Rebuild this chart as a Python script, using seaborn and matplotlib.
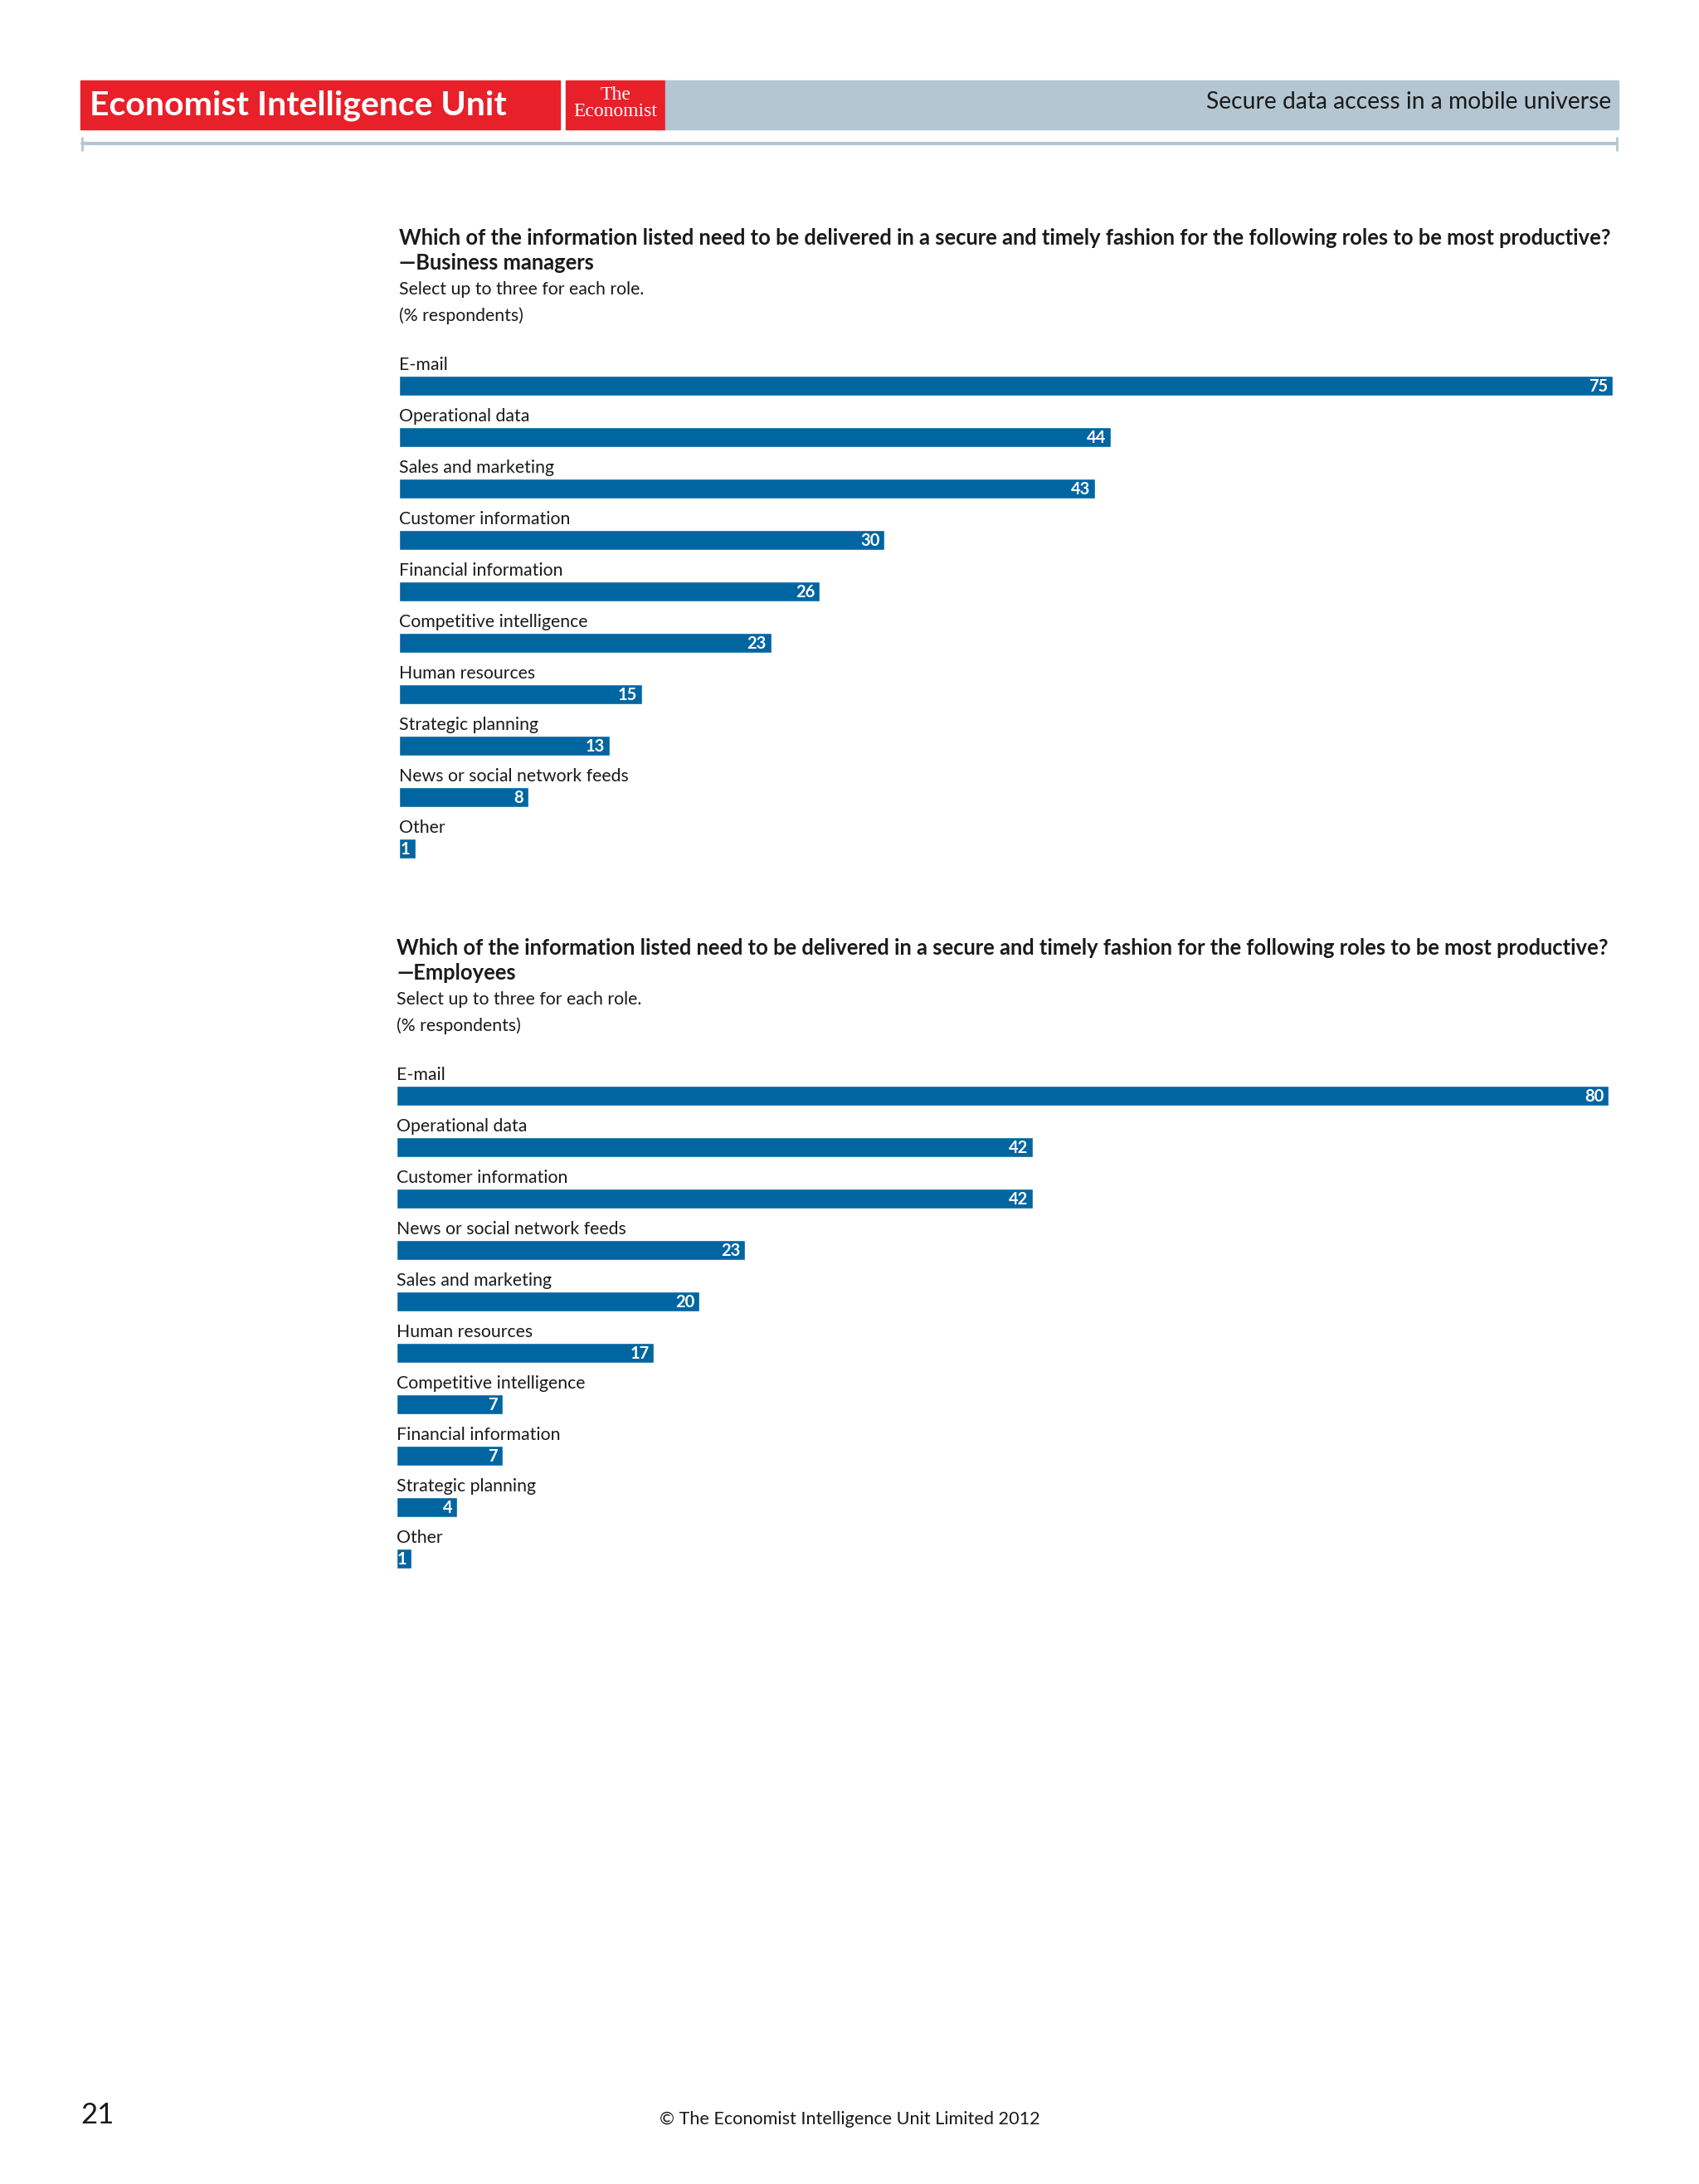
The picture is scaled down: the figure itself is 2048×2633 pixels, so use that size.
import pandas as pd
import matplotlib
matplotlib.use('Agg')
import matplotlib.pyplot as plt
import seaborn as sns
from matplotlib.patches import Rectangle
from matplotlib.lines import Line2D

# data for the two charts
mgr_items = ['E-mail', 'Operational data', 'Sales and marketing', 'Customer information',
             'Financial information', 'Competitive intelligence', 'Human resources',
             'Strategic planning', 'News or social network feeds', 'Other']
mgr_values = [75, 44, 43, 30, 26, 23, 15, 13, 8, 1]

emp_items = ['E-mail', 'Operational data', 'Customer information', 'News or social network feeds',
             'Sales and marketing', 'Human resources', 'Competitive intelligence',
             'Financial information', 'Strategic planning', 'Other']
emp_values = [80, 42, 42, 23, 20, 17, 7, 7, 4, 1]

question = ('Which of the information listed need to be delivered in a secure and timely fashion '
            'for the following roles to be most productive?')

sns.set_theme(style='white')
plt.rcParams['font.family'] = ['Lato', 'DejaVu Sans']

W, H = 2048, 2633
BLUE = '#0066a1'
TXT = '#1a1a1a'

fig = plt.figure(figsize=(W / 100, H / 100), dpi=100)
fig.patch.set_facecolor('white')


def fx(px):
    return px / W


def fy(py):
    return 1 - py / H


# header bands
fig.patches.append(Rectangle((fx(97), fy(156)), fx(675) - fx(97), fy(97) - fy(156),
                             transform=fig.transFigure, color='#e8202a', zorder=0))
fig.patches.append(Rectangle((fx(682), fy(156)), fx(802) - fx(682), fy(97) - fy(156),
                             transform=fig.transFigure, color='#e8202a', zorder=0))
fig.patches.append(Rectangle((fx(802), fy(156)), fx(1951) - fx(802), fy(97) - fy(156),
                             transform=fig.transFigure, color='#b3c6d2', zorder=0))
fig.text(fx(108), fy(127), 'Economist Intelligence Unit', color='white', fontsize=29.5,
         fontweight='bold', va='center', ha='left')
fig.text(fx(742), fy(114), 'The', color='white', fontsize=17, family='Liberation Serif',
         va='center', ha='center')
fig.text(fx(742), fy(135), 'Economist', color='white', fontsize=17, family='Liberation Serif',
         va='center', ha='center')
fig.text(fx(1942), fy(123), 'Secure data access in a mobile universe', color=TXT, fontsize=20.3,
         va='center', ha='right')

# rule under header
fig.lines.append(Line2D([fx(99), fx(1949)], [fy(173), fy(173)], transform=fig.transFigure,
                        color='#b3c6d2', lw=3))
for x in (99, 1949):
    fig.lines.append(Line2D([fx(x), fx(x)], [fy(166), fy(181)], transform=fig.transFigure,
                            color='#b3c6d2', lw=2))


def chart(items, values, role, left, right, title_y, first_bar_y):
    fig.text(fx(left), fy(title_y), question, color=TXT, fontsize=18.4, fontweight='bold',
             va='center', ha='left')
    fig.text(fx(left), fy(title_y + 30), '\u2014' + role, color=TXT, fontsize=18.4,
             fontweight='bold', va='center', ha='left')
    fig.text(fx(left), fy(title_y + 62), 'Select up to three for each role.', color=TXT,
             fontsize=15.3, va='center', ha='left')
    fig.text(fx(left), fy(title_y + 94), '(% respondents)', color=TXT, fontsize=15.3,
             va='center', ha='left')

    step = 62
    top = first_bar_y - step / 2
    bottom = first_bar_y + (len(items) - 1) * step + step / 2
    ax = fig.add_axes([fx(left), fy(bottom), fx(right) - fx(left), (bottom - top) / H])
    df = pd.DataFrame({'item': items, 'value': values})
    sns.barplot(data=df, x='value', y='item', orient='h', color=BLUE, width=0.38,
                saturation=1, ax=ax)
    ax.set_xlim(0, max(values))
    ax.set_ylim(len(items) - 0.5, -0.5)
    ax.axis('off')
    for i, (name, v) in enumerate(zip(items, values)):
        ax.text(0.0, i - 0.25, name, color=TXT, fontsize=15.3, va='bottom', ha='left')
        ax.text(v - max(values) * 0.004, i + 0.02, str(v), color='white', fontsize=14.5,
                fontweight='bold', va='center', ha='right')


chart(mgr_items, mgr_values, 'Business managers', 481, 1944, 287, 465)
chart(emp_items, emp_values, 'Employees', 478, 1939, 1143, 1321)

# footer
fig.text(fx(97), fy(2550), '21', color=TXT, fontsize=25, va='center', ha='left')
fig.text(fx(1024), fy(2555), '\u00a9 The Economist Intelligence Unit Limited 2012', color=TXT,
         fontsize=15.6, va='center', ha='center')

fig.savefig('out.png', dpi=100, facecolor='white')
